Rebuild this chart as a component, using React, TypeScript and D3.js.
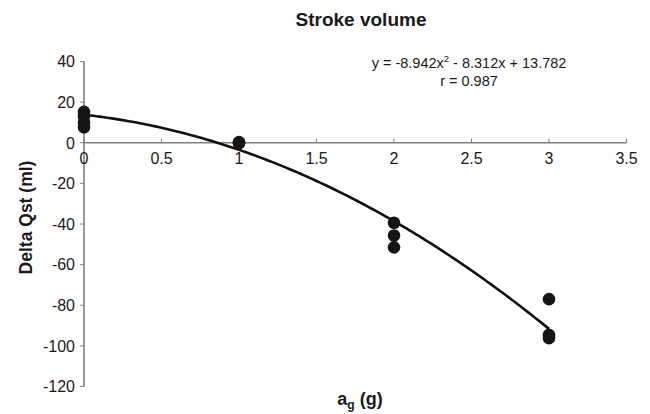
import React from "react";
import * as d3 from "d3";

const xTicks = [0, 0.5, 1, 1.5, 2, 2.5, 3, 3.5];
const yTicks = [40, 20, 0, -20, -40, -60, -80, -100, -120];
const pointX = [0, 0, 0, 0, 1, 1, 1, 2, 2, 2, 3, 3, 3];
const pointY = [15.2, 13.1, 10, 7.6, 0, 0.3, -0.3, -39.4, -45.7, -51.5, -77, -94.6, -96.2];
const coeffs = [-8.942, -8.312, 13.782];

const W = 650, H = 414;
const FONT = "'Liberation Sans', Arial, sans-serif";

export default function App() {
  const x = d3.scaleLinear().domain([0, 3.5]).range([84, 626.5]);
  const y = d3.scaleLinear().domain([40, -120]).range([61.5, 386.5]);
  const f = (v: number) => coeffs[0] * v * v + coeffs[1] * v + coeffs[2];
  const curvePts = d3.range(0, 3.0001, 0.02).map((v) => [v, f(v)] as [number, number]);
  const line = d3.line<[number, number]>().x((d) => x(d[0])).y((d) => y(d[1]));
  const axisColor = "#808080";
  const txt = "#1a1a1a";
  return (
    <svg width={W} height={H} style={{ position: "absolute", left: 0, top: 0, background: "#fff" }} fontFamily={FONT}>
      <text x={361} y={26} textAnchor="middle" fontWeight="bold" fontSize={19} fill={txt}>Stroke volume</text>
      {/* y axis */}
      <line x1={x(0)} x2={x(0)} y1={y(40)} y2={y(-120)} stroke={axisColor} strokeWidth={1.6} />
      {yTicks.map((t) => (
        <g key={t}>
          <line x1={x(0) - 4} x2={x(0)} y1={y(t)} y2={y(t)} stroke={axisColor} strokeWidth={1} />
          <text x={x(0) - 9} y={y(t)} dy="0.36em" textAnchor="end" fontSize={16} fill={txt}>{t}</text>
        </g>
      ))}
      {/* x axis at y=0 */}
      <line x1={x(0)} x2={x(3.5)} y1={y(0)} y2={y(0)} stroke={axisColor} strokeWidth={1.6} />
      {xTicks.map((t) => (
        <g key={t}>
          <line x1={x(t)} x2={x(t)} y1={y(0) - 4} y2={y(0)} stroke={axisColor} strokeWidth={1} />
          <text x={x(t)} y={y(0) + 21} textAnchor="middle" fontSize={16} fill={txt}>{t}</text>
        </g>
      ))}
      <path d={line(curvePts) || ""} fill="none" stroke="#111" strokeWidth={2.6} />
      {pointX.map((px, i) => (
        <circle key={i} cx={x(px)} cy={y(pointY[i])} r={6.3} fill="#151515" />
      ))}
      <text x={469} y={68} textAnchor="middle" fontSize={14.5} fill={txt}>
        y = -8.942x<tspan dy={-6} fontSize={9.5}>2</tspan><tspan dy={6}> - 8.312x + 13.782</tspan>
      </text>
      <text x={469} y={85.5} textAnchor="middle" fontSize={14.5} fill={txt}>r = 0.987</text>
      <text transform={`translate(32,217.5) rotate(-90)`} textAnchor="middle" fontWeight="bold" fontSize={17.5} fill={txt}>Delta Qst (ml)</text>
      <text x={360} y={405} textAnchor="middle" fontWeight="bold" fontSize={18} fill={txt}>
        a<tspan dy={4} fontSize={12}>g</tspan><tspan dy={-4}> (g)</tspan>
      </text>
    </svg>
  );
}
